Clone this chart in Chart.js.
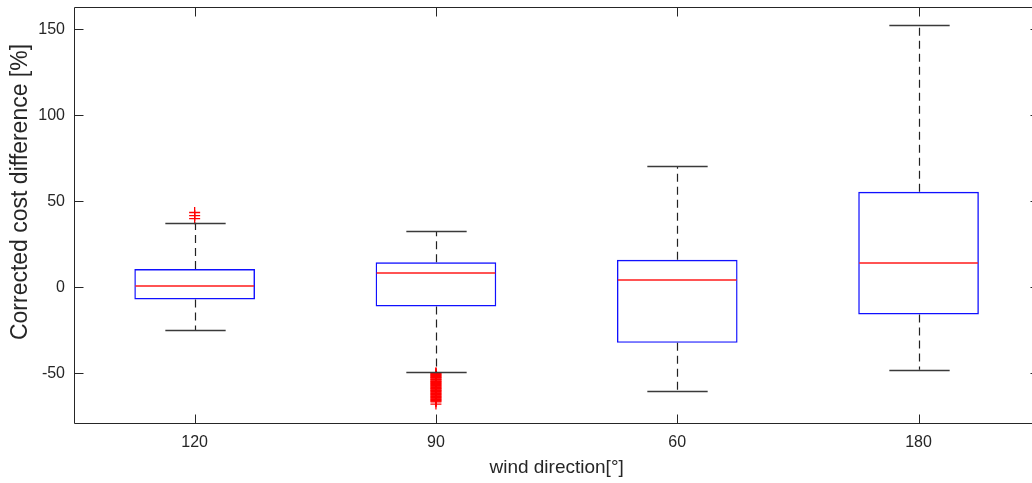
<!DOCTYPE html>
<html><head><meta charset="utf-8">
<script src="https://cdn.jsdelivr.net/npm/chart.js@4/dist/chart.umd.min.js"></script>
<style>
html,body{margin:0;padding:0;overflow:hidden;background:#fff;width:1032px;height:483px}
#wrap{position:absolute;left:0;top:0;width:1046px;height:483px}
</style>
</head><body><div id="wrap"><canvas id="c" width="1046" height="483"></canvas></div>
<script>
const categories = ['120', '90', '60', '180'];
const whiskerLow  = [-25.0, -49.4, -60.3, -48.1];
const q1          = [-7.2, -11.2, -32.4, -15.9];
const median      = [0.8, 8.3, 3.9, 13.8];
const q3          = [10.5, 14.4, 15.9, 55.4];
const whiskerHigh = [37.4, 32.6, 70.5, 152.7];
const outliers120 = [43.4, 41.6, 39.8];
const outliers90  = [-49.8, -50.2, -50.7, -51.1, -51.5, -52.0, -52.4, -52.8, -53.3, -53.7,
                     -54.1, -54.6, -55.0, -55.4, -55.9, -56.3, -56.7, -57.2, -57.6, -58.0,
                     -58.5, -58.9, -59.3, -59.8, -60.2, -60.6, -61.1, -61.5, -61.9, -62.4,
                     -62.8, -63.2, -63.7, -64.1, -64.5, -65.0, -65.4, -65.8, -66.3, -66.7, -68.0];
const outliers60  = [];
const outliers180 = [];
const yTicks = [-50, 0, 50, 100, 150];
const yMin = -79, yMax = 163;
const xTitle = 'wind direction[°]';
const yTitle = 'Corrected cost difference [%]';

const FONT = "'Liberation Sans', Arial, Helvetica, sans-serif";
const AXIS = '#262626';
const outlierLists = [outliers120, outliers90, outliers60, outliers180];
const outlierPoints = [];
outlierLists.forEach((list, i) => list.forEach(v => outlierPoints.push({x: categories[i], y: v})));

const boxPlugin = {
  id: 'boxParts',
  afterDatasetsDraw(chart) {
    const ctx = chart.ctx, xs = chart.scales.x, ys = chart.scales.y, ca = chart.chartArea;
    const step = xs.getPixelForValue(1) - xs.getPixelForValue(0);
    const boxHalf = step * 0.25, capHalf = step * 0.125;
    ctx.save();
    categories.forEach((c, i) => {
      const cx = Math.round(xs.getPixelForValue(i)) + 0.5;
      // whiskers
      ctx.strokeStyle = '#222';
      ctx.lineWidth = 1.2;
      ctx.setLineDash([8, 5]);
      ctx.beginPath();
      ctx.moveTo(cx, ys.getPixelForValue(q3[i]));
      ctx.lineTo(cx, ys.getPixelForValue(whiskerHigh[i]));
      ctx.moveTo(cx, ys.getPixelForValue(q1[i]));
      ctx.lineTo(cx, ys.getPixelForValue(whiskerLow[i]));
      ctx.stroke();
      ctx.setLineDash([]);
      // caps
      ctx.strokeStyle = '#3a3a3a';
      ctx.lineWidth = 1.3;
      ctx.beginPath();
      [whiskerHigh[i], whiskerLow[i]].forEach(v => {
        const py = Math.round(ys.getPixelForValue(v)) + 0.5;
        ctx.moveTo(cx - capHalf, py);
        ctx.lineTo(cx + capHalf, py);
      });
      ctx.stroke();
    });
    // medians
    ctx.strokeStyle = '#ff1a1a';
    ctx.lineWidth = 1.5;
    categories.forEach((c, i) => {
      const cx = xs.getPixelForValue(i);
      const my = Math.round(ys.getPixelForValue(median[i]));
      ctx.beginPath();
      ctx.moveTo(cx - boxHalf + 1, my);
      ctx.lineTo(cx + boxHalf - 1, my);
      ctx.stroke();
    });
    // axes frame
    ctx.strokeStyle = AXIS;
    ctx.lineWidth = 1;
    const L = Math.round(ca.left) + 0.5, T = Math.round(ca.top) + 0.5, B = Math.round(ca.bottom) + 0.5, R = Math.round(ca.right) + 0.5;
    ctx.beginPath();
    ctx.moveTo(L, T); ctx.lineTo(R, T); ctx.lineTo(R, B); ctx.lineTo(L, B); ctx.closePath();
    // tick marks (inside)
    const tl = 9;
    yTicks.forEach(v => {
      const py = Math.round(ys.getPixelForValue(v)) + 0.5;
      ctx.moveTo(L, py); ctx.lineTo(L + tl, py);
      ctx.moveTo(R, py); ctx.lineTo(R - tl, py);
    });
    categories.forEach((c, i) => {
      const px = Math.round(xs.getPixelForValue(i)) + 0.5;
      ctx.moveTo(px, B); ctx.lineTo(px, B - tl);
      ctx.moveTo(px, T); ctx.lineTo(px, T + tl);
    });
    ctx.stroke();
    // y title
    ctx.fillStyle = AXIS;
    ctx.font = '23px ' + FONT;
    ctx.textAlign = 'center';
    ctx.textBaseline = 'middle';
    ctx.translate(21, 192);
    ctx.rotate(-Math.PI / 2);
    ctx.fillText(yTitle, 0, 0);
    ctx.restore();
  }
};

new Chart(document.getElementById('c'), {
  type: 'bar',
  data: {
    labels: categories,
    datasets: [
      {
        type: 'bar',
        data: categories.map((c, i) => [q1[i], q3[i]]),
        backgroundColor: 'rgba(0,0,0,0)',
        borderColor: '#1010ff',
        borderWidth: 1.4,
        borderSkipped: false,
        barPercentage: 0.5,
        categoryPercentage: 1
      },
      {
        type: 'scatter',
        data: outlierPoints,
        pointStyle: 'cross',
        radius: 5.5,
        borderColor: '#ff0000',
        backgroundColor: '#ff0000',
        borderWidth: 1.3
      }
    ]
  },
  options: {
    responsive: false,
    devicePixelRatio: 1,
    animation: false,
    layout: { padding: { top: 6, right: 5, left: 0, bottom: 0 } },
    plugins: { legend: { display: false }, tooltip: { enabled: false } },
    scales: {
      x: {
        type: 'category',
        offset: true,
        grid: { display: false, drawTicks: false, tickLength: 0 },
        border: { display: false },
        ticks: { font: { family: FONT, size: 16 }, color: AXIS, padding: 10, maxRotation: 0 },
        title: { display: true, text: xTitle, font: { family: FONT, size: 19 }, color: AXIS, padding: { top: 0, bottom: 4 } },
        afterFit(s) { s.height = 60; s.paddingLeft = 0; s.paddingRight = 0; }
      },
      y: {
        min: yMin,
        max: yMax,
        grid: { display: false, drawTicks: false, tickLength: 0 },
        border: { display: false },
        ticks: { font: { family: FONT, size: 16 }, color: AXIS, padding: 9 },
        afterBuildTicks(s) { s.ticks = yTicks.map(v => ({ value: v })); },
        afterFit(s) { s.width = 74; s.paddingTop = 0; s.paddingBottom = 0; }
      }
    }
  },
  plugins: [boxPlugin]
});
</script>
</body></html>
